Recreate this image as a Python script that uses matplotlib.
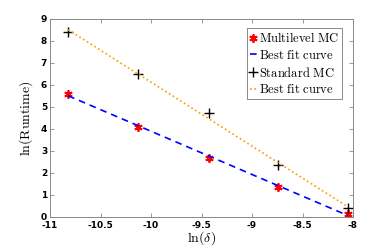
import matplotlib.pyplot as plt
import numpy as np

plt.rcParams['mathtext.fontset'] = 'cm'

ln_delta = np.array([-10.82, -10.13, -9.43, -8.74, -8.05])
multilevel = np.array([5.6, 4.1, 2.7, 1.38, 0.15])
standard = np.array([8.4, 6.52, 4.72, 2.38, 0.4])

ml_fit = np.polyval(np.polyfit(ln_delta, multilevel, 1), ln_delta)
st_fit = np.polyval(np.polyfit(ln_delta, standard, 1), ln_delta)

fig = plt.figure(figsize=(3.9, 2.46), dpi=100)
ax = fig.add_axes([50 / 390, 29 / 246, 303 / 390, 198 / 246])

ax.plot(ln_delta, multilevel, marker=(6, 2, 0), ls='none', color='red', markersize=6, mew=1.3,
        label=r'$\mathrm{Multilevel\ MC}$')
ax.plot(ln_delta, ml_fit, '--', color='blue', lw=1.2, dashes=(4, 3), label=r'$\mathrm{Best\ fit\ curve}$')
ax.plot(ln_delta, standard, '+', color='black', markersize=7, mew=1.0, label=r'$\mathrm{Standard\ MC}$')
ax.plot(ln_delta, st_fit, ':', color='#ff9900', lw=1.2, label=r'$\mathrm{Best\ fit\ curve}$')

ax.set_xlim(-11, -8)
ax.set_ylim(0, 9)
ax.set_xticks([-11, -10.5, -10, -9.5, -9, -8.5, -8])
ax.set_xticklabels(['-11', '-10.5', '-10', '-9.5', '-9', '-8.5', '-8'])
ax.set_yticks(range(10))
ax.tick_params(direction='in', top=True, right=True, labelsize=6.5, length=3, width=0.6,
               colors='#888888', labelcolor='black')
ax.tick_params(axis='x', pad=3)
ax.tick_params(axis='y', pad=2)
for lbl in ax.get_xticklabels() + ax.get_yticklabels():
    lbl.set_fontweight('bold')
for s in ax.spines.values():
    s.set_color('#888888')
    s.set_linewidth(0.7)

ax.set_xlabel(r'$\ln(\delta)$', fontsize=10, labelpad=-1)
ax.set_ylabel(r'$\mathrm{ln(Runtime)}$', fontsize=10, labelpad=4)

leg = ax.legend(loc='upper right', bbox_to_anchor=(0.965, 0.955), fontsize=9, handlelength=0.5, handletextpad=0.2,
                borderpad=0.25, labelspacing=0.3, fancybox=False, framealpha=1, borderaxespad=0)
leg.get_frame().set_edgecolor('#888888')
leg.get_frame().set_linewidth(0.7)

fig.savefig('out.png', dpi=100)
